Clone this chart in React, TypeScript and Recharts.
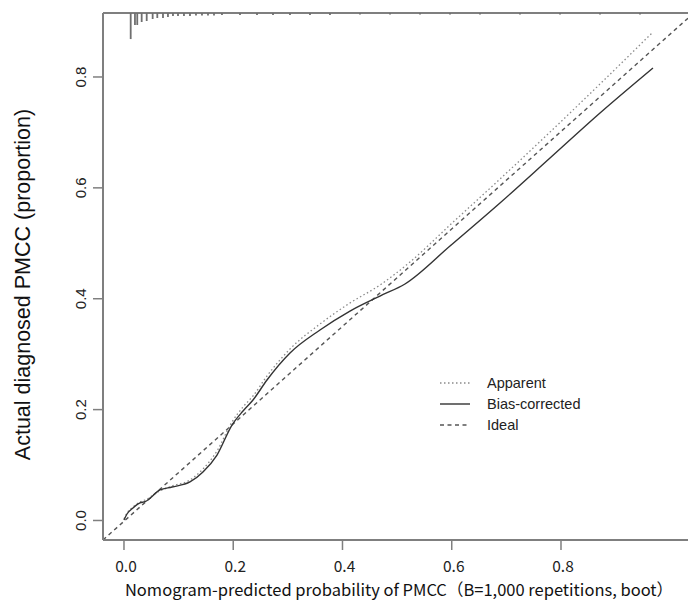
import React from 'react';
import { ComposedChart, Line, XAxis, YAxis, ReferenceLine } from 'recharts';

// ---- axis ticks & domains ----
const X_TICKS = [0, 0.2, 0.4, 0.6, 0.8];
const Y_TICKS = [0, 0.2, 0.4, 0.6, 0.8];
const X_DOMAIN: [number, number] = [-0.0384, 1.0325];
const Y_DOMAIN: [number, number] = [-0.0352, 0.9154];

// ---- Bias-corrected (solid) ----
const biasX = [0.0, 0.0055, 0.0165, 0.0293, 0.0384, 0.0659, 0.0879, 0.1208, 0.1446, 0.1703, 0.1977, 0.2179, 0.2362, 0.2618, 0.3039, 0.3588, 0.4137, 0.4686, 0.5144, 0.5968, 0.6883, 0.7799, 0.8714, 0.9684];
const biasY = [0.0009, 0.0117, 0.0225, 0.0316, 0.0339, 0.055, 0.0604, 0.0695, 0.0875, 0.1181, 0.1722, 0.1975, 0.2174, 0.2534, 0.3021, 0.3436, 0.3778, 0.4049, 0.4266, 0.4951, 0.5727, 0.6538, 0.735, 0.8162];

// ---- Apparent (dotted) ----
const appX = [0.0, 0.0055, 0.0165, 0.0293, 0.0384, 0.0659, 0.0879, 0.1208, 0.1446, 0.1703, 0.1977, 0.2179, 0.2362, 0.2618, 0.3039, 0.3588, 0.4137, 0.4686, 0.5236, 0.5968, 0.6883, 0.7799, 0.8714, 0.9684];
const appY = [0.0027, 0.0135, 0.0244, 0.0334, 0.037, 0.0532, 0.0622, 0.0731, 0.0929, 0.1254, 0.1777, 0.2047, 0.2246, 0.2606, 0.3093, 0.3544, 0.3923, 0.4247, 0.4662, 0.533, 0.6159, 0.7007, 0.7873, 0.8811];

// ---- Ideal (dashed) ----
const idealX = [-0.0384, 1.0325];
const idealY = [-0.0352, 0.906];

// ---- rug of predicted probabilities (top) ----
const rugX = [0.0123, 0.0201, 0.0243, 0.0324, 0.0416, 0.0525, 0.061, 0.0714, 0.0805, 0.0897, 0.0989, 0.1098, 0.1208, 0.1318, 0.1428, 0.1538, 0.1648, 0.1794, 0.2124, 0.2435, 0.2728, 0.3039, 0.3405, 0.3771, 0.432, 0.487, 0.5419, 0.5968, 0.6517, 0.7249, 0.7982, 0.8714, 0.9446];
const rugLen = [0.047, 0.0216, 0.0216, 0.0162, 0.0144, 0.0108, 0.009, 0.009, 0.0072, 0.0054, 0.0054, 0.0054, 0.0054, 0.0045, 0.0045, 0.0045, 0.0045, 0.0036, 0.0036, 0.0036, 0.0036, 0.0036, 0.0036, 0.0036, 0.0027, 0.0027, 0.0027, 0.0027, 0.0027, 0.0027, 0.0027, 0.0027, 0.0027];

const LEGEND_LABELS = ['Apparent', 'Bias-corrected', 'Ideal'];
const X_TITLE = 'Nomogram-predicted probability of PMCC（B=1,000 repetitions, boot）';
const Y_TITLE = 'Actual diagnosed PMCC (proportion)';

const toRows = (xs: number[], ys: number[]) => xs.map((x, i) => ({ x, y: ys[i] }));
const biasData = toRows(biasX, biasY);
const appData = toRows(appX, appY);
const idealData = toRows(idealX, idealY);

const AXIS_COLOR = '#7f7f7f';
const CJK = '"Noto Sans CJK SC", "Noto Sans", sans-serif';
const SANS = '"Liberation Sans", Arial, sans-serif';

const XTick = (p: any) => (
  <text x={p.x + 2} y={p.y + 20} textAnchor="middle" fontFamily={CJK} fontSize={15.5} fill="#222">
    {p.payload.value.toFixed(1)}
  </text>
);

const YTick = (p: any) => {
  const x = p.x - 5;
  return (
    <text x={x} y={p.y} transform={`rotate(-90 ${x} ${p.y})`} textAnchor="middle" fontFamily={SANS} fontSize={15} fill="#222">
      {p.payload.value.toFixed(1)}
    </text>
  );
};

const XTitle = (p: any) => {
  const vb = p.viewBox;
  return (
    <text x={399} y={vb.y + 56} textAnchor="middle" fontFamily={CJK} fontSize={16.5} fill="#111">
      {X_TITLE}
    </text>
  );
};

const YTitle = (p: any) => {
  const vb = p.viewBox;
  const x = 30;
  const y = vb.y + vb.height / 2 + 8;
  return (
    <text x={x} y={y} transform={`rotate(-90 ${x} ${y})`} textAnchor="middle" fontFamily={SANS} fontSize={21.5} fill="#111">
      {Y_TITLE}
    </text>
  );
};

const LEGEND_STYLES = [
  { stroke: '#8a8a8a', dash: '1.5 2.5', w: 1.3 },
  { stroke: '#333', dash: undefined, w: 1.4 },
  { stroke: '#555', dash: '4 3.5', w: 1.4 },
];

const LegendBox = () => (
  <svg width={200} height={66} style={{ position: 'absolute', left: 435, top: 372 }}>
    {LEGEND_LABELS.map((lab, i) => (
      <g key={lab}>
        <line x1={5} x2={35} y1={11 + i * 21} y2={11 + i * 21} stroke={LEGEND_STYLES[i].stroke} strokeDasharray={LEGEND_STYLES[i].dash} strokeWidth={LEGEND_STYLES[i].w} />
        <text x={52} y={16 + i * 21} fontFamily={SANS} fontSize={14.5} fill="#222">{lab}</text>
      </g>
    ))}
  </svg>
);

export default function App() {
  return (
    <div style={{ position: 'absolute', left: 0, top: 0, width: 688, height: 604, background: '#fff' }}>
      <ComposedChart width={688} height={604} margin={{ top: 13, right: 0, bottom: 0, left: 0 }}>
        <XAxis
          type="number"
          dataKey="x"
          domain={X_DOMAIN}
          ticks={X_TICKS}
          allowDataOverflow
          height={64}
          tickSize={10}
          tick={<XTick />}
          axisLine={{ stroke: AXIS_COLOR, strokeWidth: 2 }}
          tickLine={{ stroke: AXIS_COLOR, strokeWidth: 1.5 }}
          label={<XTitle />}
        />
        <YAxis
          type="number"
          dataKey="y"
          domain={Y_DOMAIN}
          ticks={Y_TICKS}
          allowDataOverflow
          width={103}
          tickSize={10}
          tick={<YTick />}
          axisLine={{ stroke: AXIS_COLOR, strokeWidth: 2 }}
          tickLine={{ stroke: AXIS_COLOR, strokeWidth: 1.5 }}
          label={<YTitle />}
        />
        <ReferenceLine y={Y_DOMAIN[1]} stroke={AXIS_COLOR} strokeWidth={2} ifOverflow="visible" />
        {rugX.map((x, i) => (
          <ReferenceLine
            key={'rug' + i}
            segment={[{ x, y: Y_DOMAIN[1] }, { x, y: Y_DOMAIN[1] - rugLen[i] }]}
            stroke="#6f6f6f"
            strokeWidth={1.8}
            ifOverflow="visible"
          />
        ))}
        <Line data={idealData} dataKey="y" type="linear" stroke="#555" strokeWidth={1.4} strokeDasharray="4 3.5" dot={false} isAnimationActive={false} legendType="none" />
        <Line data={appData} dataKey="y" type="monotone" stroke="#8a8a8a" strokeWidth={1.3} strokeDasharray="1.5 2.5" dot={false} isAnimationActive={false} legendType="none" />
        <Line data={biasData} dataKey="y" type="monotone" stroke="#333" strokeWidth={1.4} dot={false} isAnimationActive={false} legendType="none" />
      </ComposedChart>
      <LegendBox />
    </div>
  );
}
